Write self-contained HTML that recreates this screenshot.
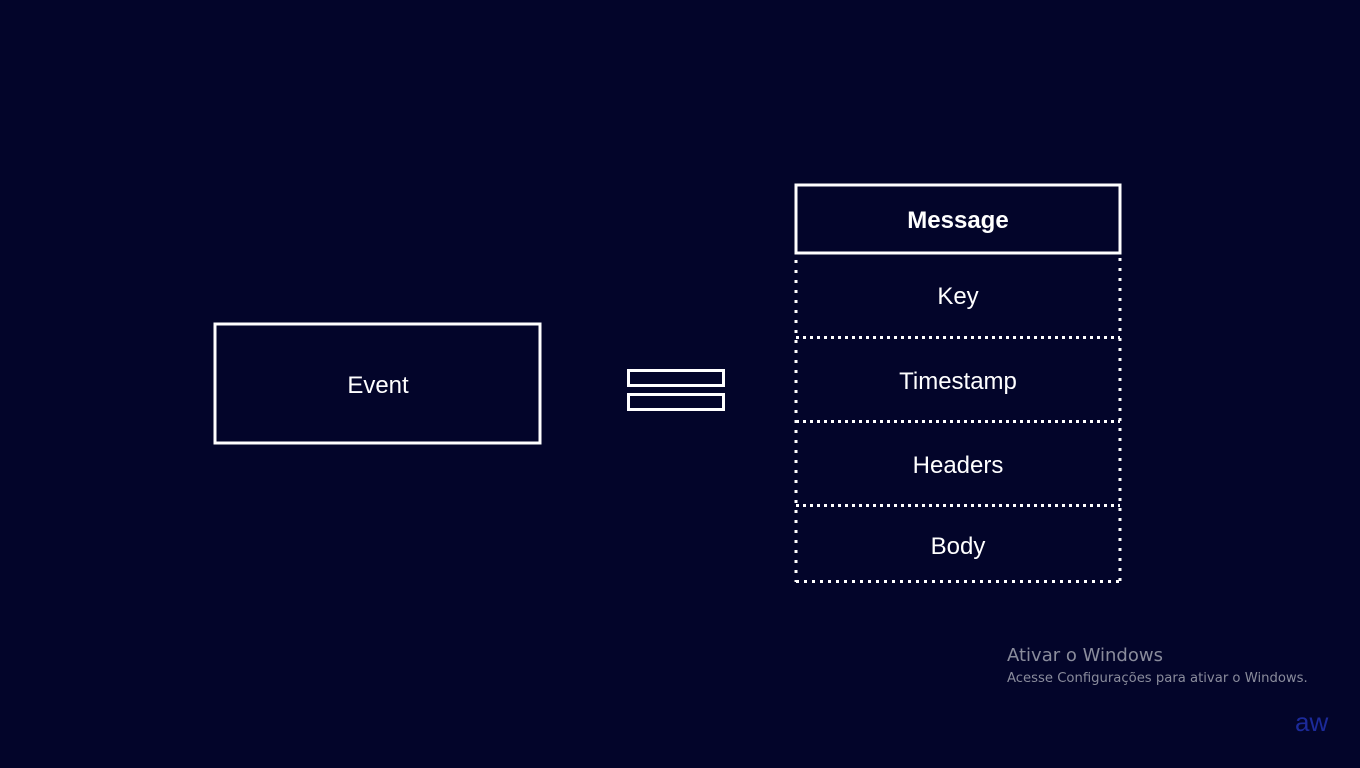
<!DOCTYPE html>
<html><head><style>
html,body{margin:0;padding:0;background:#03052a;}
body{width:1360px;height:768px;overflow:hidden;position:relative;font-family:"Liberation Sans",sans-serif;}
</style></head><body>
<svg width="1360" height="768" style="position:absolute;left:0;top:0">
<rect x="0" y="0" width="1360" height="768" fill="#03052a"/>
<rect x="215" y="324" width="325" height="119" fill="none" stroke="#fff" stroke-width="3"/>
<text x="378" y="393" fill="#fff" font-size="24" text-anchor="middle" font-family="Liberation Sans, sans-serif">Event</text>
<rect x="628.5" y="370.5" width="95" height="15" fill="none" stroke="#fff" stroke-width="3"/>
<rect x="628.5" y="394.5" width="95" height="15" fill="none" stroke="#fff" stroke-width="3"/>
<rect x="796" y="185" width="324" height="68" fill="none" stroke="#fff" stroke-width="3"/>
<text x="958" y="228" fill="#fff" font-size="24" font-weight="bold" text-anchor="middle" font-family="Liberation Sans, sans-serif">Message</text>
<g stroke="#fff" stroke-width="3" stroke-dasharray="3 7" fill="none">
<line x1="796" y1="260" x2="796" y2="582"/>
<line x1="1120" y1="258" x2="1120" y2="582"/>
<line x1="796" y1="337.5" x2="1120" y2="337.5" stroke-dasharray="3 4"/>
<line x1="796" y1="421.5" x2="1120" y2="421.5" stroke-dasharray="3 4"/>
<line x1="796" y1="505.5" x2="1120" y2="505.5" stroke-dasharray="3 4"/>
<line x1="796" y1="581.5" x2="1120" y2="581.5" stroke-dasharray="3 5"/>
</g>
<g fill="#fff" font-size="24" text-anchor="middle" font-family="Liberation Sans, sans-serif">
<text x="958" y="304">Key</text>
<text x="958" y="389">Timestamp</text>
<text x="958" y="473">Headers</text>
<text x="958" y="554">Body</text>
</g>
<text x="1007" y="661" fill="#8a8c9c" font-size="18" font-family="DejaVu Sans, sans-serif">Ativar o Windows</text>
<text x="1007" y="682" fill="#8a8c9c" font-size="13.2" font-family="DejaVu Sans, sans-serif">Acesse Configurações para ativar o Windows.</text>
<text x="1295" y="731" fill="#1c2a9a" font-size="26" font-family="Liberation Sans, sans-serif">aw</text>
</svg>
</body></html>
